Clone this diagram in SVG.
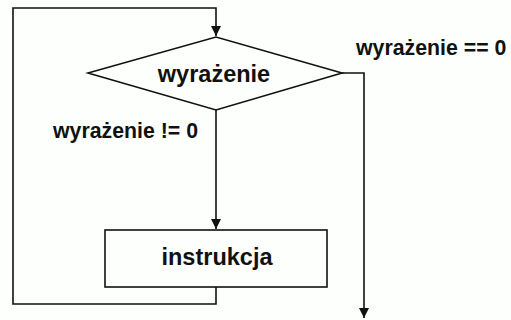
<svg xmlns="http://www.w3.org/2000/svg" width="511" height="320" viewBox="0 0 511 320">
<style>
.ln{fill:none;stroke:#111;stroke-width:1.6}
.sh{fill:#fcfffc;stroke:#111;stroke-width:1.6}
.t{font-family:"Liberation Sans",Arial,sans-serif;font-weight:bold;fill:#111}
.big{font-size:23.5px}
.lab{font-size:21.3px}
</style>
<defs>
<marker id="ah" viewBox="0 0 10 10" refX="10" refY="5" markerWidth="10" markerHeight="10" markerUnits="userSpaceOnUse" orient="auto">
<path d="M0,0 L10,5 L0,10 Z" fill="#111"/>
</marker>
</defs>
<rect width="511" height="320" fill="#fcfffc"/>
<g id="connectors">
<path class="ln" d="M216,287 V304 H13 V8 H216 V36" marker-end="url(#ah)"/>
<path class="ln" d="M216,110 V229" marker-end="url(#ah)"/>
<path class="ln" d="M342,73 H364 V318" marker-end="url(#ah)"/>
</g>
<g id="decision">
<polygon class="sh" points="88,73 216,37 342,73 216,110"/>
<text class="t big" x="214" y="82" text-anchor="middle">wyrażenie</text>
</g>
<g id="instruction">
<rect class="sh" x="105" y="230" width="222" height="57"/>
<text class="t big" x="217" y="265" text-anchor="middle">instrukcja</text>
</g>
<g id="labels">
<text class="t lab" x="356" y="55">wyrażenie == 0</text>
<text class="t lab" x="53" y="138">wyrażenie != 0</text>
</g>
</svg>
